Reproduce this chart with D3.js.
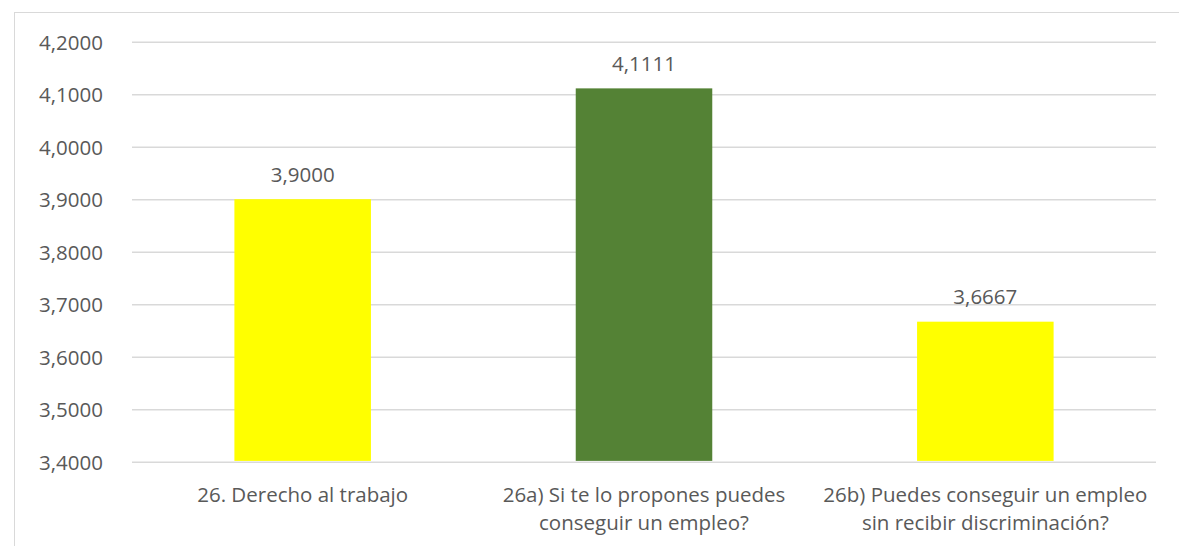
<!DOCTYPE html>
<html>
<head>
<meta charset="utf-8">
<script src="https://cdn.jsdelivr.net/npm/d3@7"></script>
<style>
  html, body { margin: 0; padding: 0; background: #fff; }
  svg { display: block; }
  text { font-family: "Open Sans", "Noto Sans", sans-serif; fill: #595959; }
</style>
</head>
<body>
<svg id="chart" width="1179" height="546"></svg>
<script>
// Survey item averages
const categories = [
  ["26. Derecho al trabajo"],
  ["26a) Si te lo propones puedes", "conseguir un empleo?"],
  ["26b) Puedes conseguir un empleo", "sin recibir discriminación?"]
];
const values = [3.9000, 4.1111, 3.6667];
const barColors = ["#FFFF00", "#548235", "#FFFF00"];
const yTicks = [3.4, 3.5, 3.6, 3.7, 3.8, 3.9, 4.0, 4.1, 4.2];

const W = 1179, H = 546;
const margin = { left: 132, right: 23, top: 41.7, bottom: 84.3 };
const fmt = v => v.toFixed(4).replace(".", ",");

const svg = d3.select("#chart");

// Chart area frame
svg.append("rect")
  .attr("x", 14.5).attr("y", 12.5)
  .attr("width", W + 10).attr("height", H + 10)
  .attr("fill", "#fff").attr("stroke", "#D9D9D9").attr("stroke-width", 1);

const x = d3.scaleBand()
  .domain(d3.range(categories.length))
  .range([margin.left, W - margin.right])
  .paddingInner(0.6)
  .paddingOuter(0.3);

const y = d3.scaleLinear()
  .domain([3.4, 4.2])
  .range([H - margin.bottom, margin.top]);

// Horizontal gridlines + value axis labels
const yAxis = d3.axisLeft(y)
  .tickValues(yTicks)
  .tickFormat(fmt)
  .tickSize(-(W - margin.right - margin.left))
  .tickPadding(29);

const gy = svg.append("g")
  .attr("transform", `translate(${margin.left},0)`)
  .call(yAxis);
gy.select(".domain").remove();
gy.selectAll(".tick line").attr("stroke", "#D9D9D9").attr("stroke-width", 1.6);
gy.selectAll(".tick text")
  .attr("font-size", "20.5px")
  .attr("fill", "#595959")
  .attr("font-family", "Open Sans, Noto Sans, sans-serif")
  .attr("dy", "0.36em");

// Bars
svg.append("g").selectAll("rect")
  .data(values)
  .join("rect")
  .attr("x", (d, i) => x(i))
  .attr("width", x.bandwidth())
  .attr("y", d => y(d))
  .attr("height", d => y(3.4) - y(d) - 0.8)
  .attr("fill", (d, i) => barColors[i]);

// Value labels
svg.append("g").selectAll("text")
  .data(values)
  .join("text")
  .attr("x", (d, i) => x(i) + x.bandwidth() / 2)
  .attr("y", d => y(d) - 17.5)
  .attr("text-anchor", "middle")
  .attr("font-size", "20.5px")
  .text(d => fmt(d));

// Category labels
const cat = svg.append("g").selectAll("text")
  .data(categories)
  .join("text")
  .attr("x", (d, i) => x(i) + x.bandwidth() / 2)
  .attr("y", 502)
  .attr("text-anchor", "middle")
  .attr("font-size", "20.5px");
cat.selectAll("tspan")
  .data(d => d)
  .join("tspan")
  .attr("x", function () { return d3.select(this.parentNode).attr("x"); })
  .attr("dy", (d, j) => j === 0 ? 0 : 28)
  .text(d => d);
</script>
</body>
</html>
